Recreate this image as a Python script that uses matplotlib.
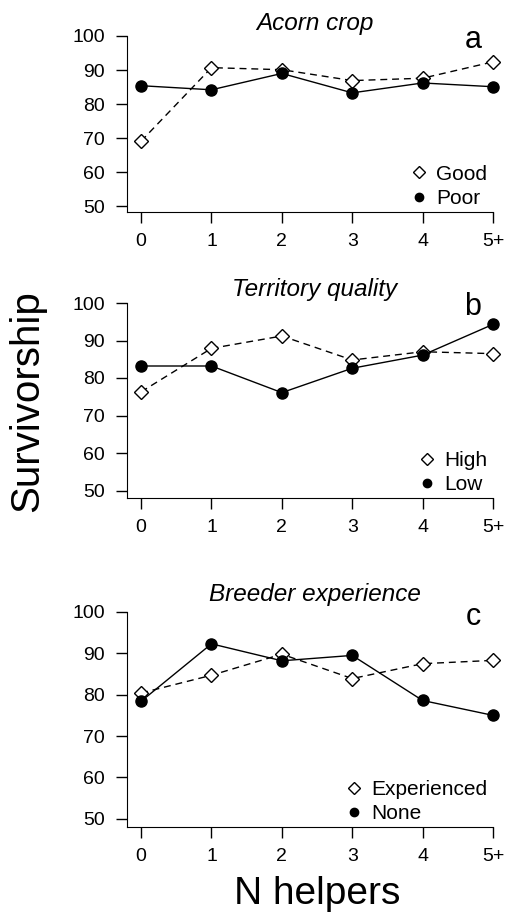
import matplotlib
matplotlib.use("Agg")
import matplotlib.pyplot as plt

plt.rcParams['font.family'] = ['Liberation Sans', 'DejaVu Sans']

# --- data
helpers = ['0', '1', '2', '3', '4', '5+']

acorn_good = [69.1, 90.7, 90.1, 86.9, 87.6, 92.4]
acorn_poor = [85.4, 84.2, 89.0, 83.3, 86.2, 85.1]

terr_high = [76.3, 87.9, 91.2, 84.8, 87.0, 86.5]
terr_low = [83.2, 83.2, 76.1, 82.6, 86.1, 94.3]

exp_yes = [80.4, 84.7, 89.8, 83.9, 87.5, 88.3]
exp_none = [78.4, 92.3, 88.2, 89.5, 78.6, 75.0]

panels = [
    ('Acorn crop', 'a', acorn_good, acorn_poor, 'Good', 'Poor'),
    ('Territory quality', 'b', terr_high, terr_low, 'High', 'Low'),
    ('Breeder experience', 'c', exp_yes, exp_none, 'Experienced', 'None'),
]

W, H = 507, 916
fig = plt.figure(figsize=(W / 100, H / 100), dpi=100)

# --- pixel boxes (left, top, right, bottom) of each plot region
boxes = [(127, 36, 493, 212), (127, 303, 493, 498), (127, 612, 493, 827)]
ylims = [(48.3, 100), (48, 100), (48, 100)]
title_base = [30, 296, 601]       # --- baseline of the italic titles, px from top
letter_base = [48, 315, 625]      # --- baseline of the panel letters

x = list(range(len(helpers)))

for (title, letter, s1, s2, l1, l2), (l, t, r, b), yl, tb, lb in zip(
        panels, boxes, ylims, title_base, letter_base):
    ax = fig.add_axes([l / W, 1 - b / H, (r - l) / W, (b - t) / H])
    ax.plot(x, s1, ls=(0, (5, 3.5)), color='black', lw=1.0, marker='D', ms=7.5,
            mfc='white', mec='black', mew=1.0, clip_on=False, label=l1, zorder=3)
    ax.plot(x, s2, ls='-', color='black', lw=1.0, marker='o', ms=8,
            mfc='black', mec='black', clip_on=False, label=l2, zorder=4)
    ax.set_xlim(-0.2, 5)
    ax.set_ylim(*yl)
    ax.set_xticks(x)
    ax.set_xticklabels(helpers)
    ax.set_yticks([50, 60, 70, 80, 90, 100])
    ax.spines['top'].set_visible(False)
    ax.spines['right'].set_visible(False)
    ax.tick_params(direction='out', length=8, width=1, labelsize=14)
    ax.tick_params(axis='x', pad=7)
    ax.tick_params(axis='y', pad=8)

    fig.text(315 / W, 1 - tb / H, title, style='italic', fontsize=17.5,
             ha='center', va='baseline')
    fig.text(473 / W, 1 - lb / H, letter, fontsize=22, ha='center', va='baseline')

    # --- legend: markers only
    hs, labs = ax.get_legend_handles_labels()
    leg = ax.legend(hs, labs, loc='lower right', frameon=False, fontsize=15,
                    handlelength=0.8, handletextpad=0.4, labelspacing=0.25,
                    borderpad=0, borderaxespad=0,
                    bbox_to_anchor=(487 / W, 1 - (b - 4) / H),
                    bbox_transform=fig.transFigure)
    for h in leg.legend_handles:
        h.set_linestyle('none')
    leg.legend_handles[0].set_markersize(6.5)
    leg.legend_handles[1].set_markersize(6)

fig.text(27 / W, 1 - 401 / H, 'Survivorship', rotation=90, fontsize=29,
         ha='center', va='center')
fig.text(317 / W, 1 - 904 / H, 'N helpers', fontsize=28, ha='center', va='baseline')

fig.savefig('out.png', dpi=100)
